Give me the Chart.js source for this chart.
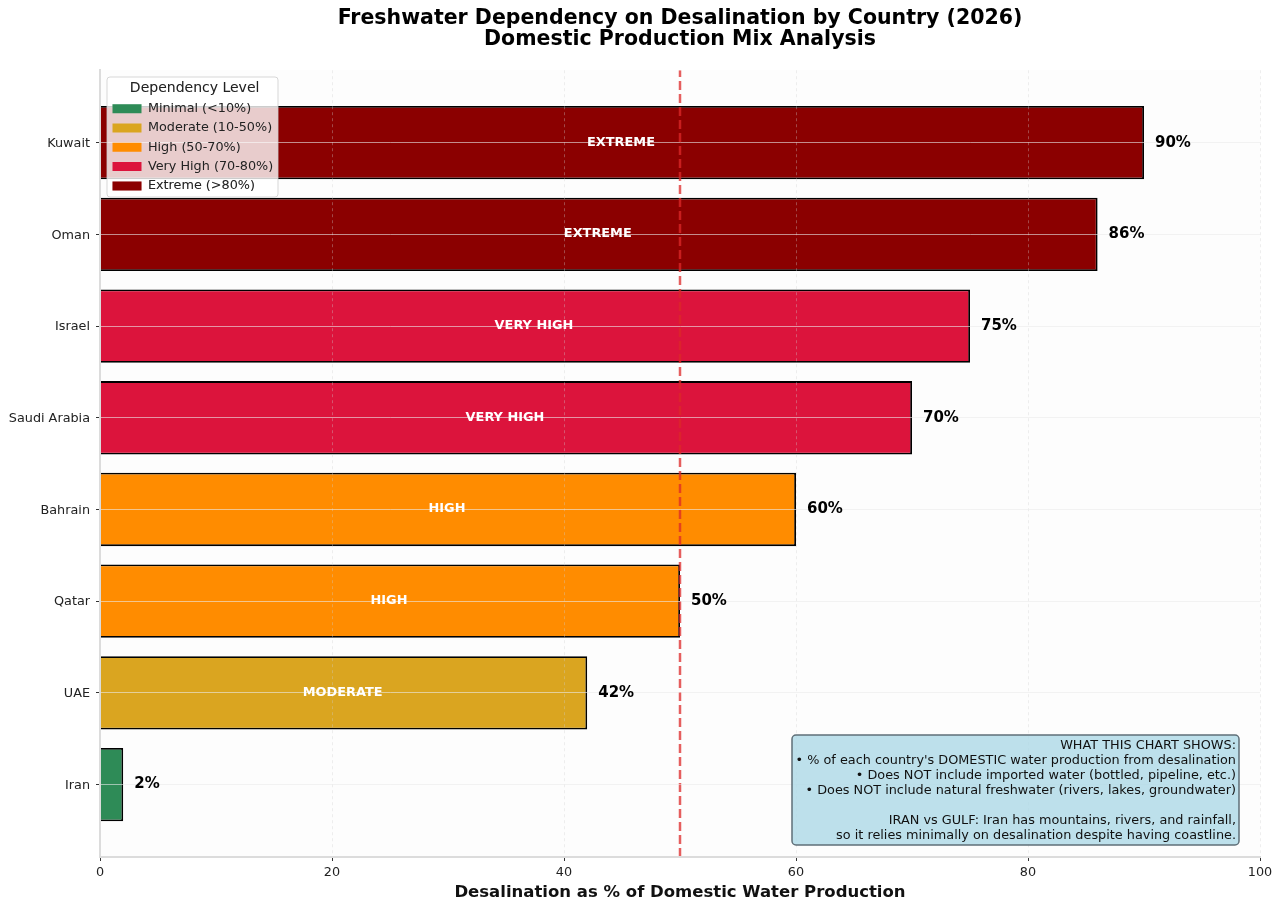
<!DOCTYPE html>
<html>
<head>
<meta charset="utf-8">
<title>Freshwater Dependency on Desalination</title>
<script src="https://cdn.jsdelivr.net/npm/chart.js@4/dist/chart.umd.min.js"></script>
<style>
  html, body { margin: 0; padding: 0; background: #fff; }
  canvas { display: block; }
</style>
</head>
<body>
<canvas id="desalChart" width="1280" height="910"></canvas>
<script>
const countries = ["Iran", "UAE", "Qatar", "Bahrain", "Saudi Arabia", "Israel", "Oman", "Kuwait"];
const desalShare = [2, 42, 50, 60, 70, 75, 86, 90];
const countryLevel = [0, 1, 2, 2, 3, 3, 4, 4];
const levelLabels = ["Minimal (<10%)", "Moderate (10-50%)", "High (50-70%)", "Very High (70-80%)", "Extreme (>80%)"];
const levelTags = ["", "MODERATE", "HIGH", "VERY HIGH", "EXTREME"];
const levelColors = ["#2E8B57", "#DAA520", "#FF8C00", "#DC143C", "#8B0000"];
const xTicks = [0, 20, 40, 60, 80, 100];
const thresholdValue = [50, 50];
const thresholdEnds = [-0.79, 7.79];
const noteLines = [
  "WHAT THIS CHART SHOWS:",
  "\u2022 % of each country's DOMESTIC water production from desalination",
  "\u2022 Does NOT include imported water (bottled, pipeline, etc.)",
  "\u2022 Does NOT include natural freshwater (rivers, lakes, groundwater)",
  "",
  "IRAN vs GULF: Iran has mountains, rivers, and rainfall,",
  "so it relies minimally on desalination despite having coastline."
];
const fontFamily = "'DejaVu Sans', sans-serif";

function roundedBox(ctx, x, y, w, h, r, fill, stroke, lineWidth) {
  ctx.beginPath();
  ctx.roundRect(x, y, w, h, r);
  ctx.fillStyle = fill;
  ctx.fill();
  ctx.lineWidth = lineWidth;
  ctx.strokeStyle = stroke;
  ctx.stroke();
}

// plot background, sits under everything
const plotBackground = {
  id: "plotBackground",
  beforeDraw(chart) {
    const a = chart.chartArea;
    chart.ctx.fillStyle = "#fdfdfd";
    chart.ctx.fillRect(a.left, a.top, a.width, a.height);
  }
};

// percent labels next to the bars and level names inside them
const barLabels = {
  id: "barLabels",
  afterDraw(chart) {
    const ctx = chart.ctx;
    const bars = chart.getDatasetMeta(0).data;
    ctx.save();
    ctx.textBaseline = "middle";
    bars.forEach((bar, i) => {
      ctx.textAlign = "left";
      ctx.fillStyle = "#000";
      ctx.font = "bold 15px " + fontFamily;
      ctx.fillText(desalShare[i] + "%", bar.x + 11, bar.y);
      const tag = levelTags[countryLevel[i]];
      if (tag) {
        ctx.textAlign = "center";
        ctx.fillStyle = "#fff";
        ctx.font = "bold 12.9px " + fontFamily;
        ctx.fillText(tag, chart.scales.x.getPixelForValue(desalShare[i] / 2) - 1, bar.y - 0.5);
      }
    });
    ctx.restore();
  }
};

// the legend floats over the bars, so it is drawn again after them on its own panel
const legendPanel = {
  id: "legendPanel",
  afterLayout(chart) {
    chart.legend.left = 106;
    chart.legend.top = 81;
  },
  afterDraw(chart) {
    const ctx = chart.ctx;
    ctx.save();
    roundedBox(ctx, 107, 77, 171, 120, 3, "rgba(255,255,255,0.8)", "rgba(205,205,205,0.8)", 1);
    ctx.restore();
    chart.legend.draw();
  }
};

const noteBox = {
  id: "noteBox",
  afterDraw(chart) {
    const ctx = chart.ctx;
    ctx.save();
    roundedBox(ctx, 792, 735, 447, 110, 4, "rgba(173,216,230,0.8)", "#5f6f78", 1.5);
    ctx.fillStyle = "#111";
    ctx.font = "12.83px " + fontFamily;
    ctx.textAlign = "right";
    ctx.textBaseline = "middle";
    noteLines.forEach((line, i) => ctx.fillText(line, 1236, 745.5 + i * 15));
    ctx.restore();
  }
};

new Chart(document.getElementById("desalChart"), {
  data: {
    datasets: [
      {
        type: "bar",
        data: countries.map((c, i) => ({ x: desalShare[i], y: i })),
        backgroundColor: countryLevel.map(l => levelColors[l]),
        borderColor: "#000",
        borderWidth: 1.8,
        barPercentage: 0.8,
        categoryPercentage: 1,
        order: 2
      },
      {
        type: "scatter",
        data: thresholdValue.map((v, i) => ({ x: v, y: thresholdEnds[i] })),
        showLine: true,
        borderColor: "rgba(220,40,40,0.75)",
        borderWidth: 2.5,
        borderDash: [9, 4],
        pointRadius: 0,
        order: 1
      }
    ]
  },
  options: {
    indexAxis: "y",
    responsive: false,
    animation: false,
    devicePixelRatio: 1,
    layout: { padding: { right: 20 } },
    scales: {
      x: {
        type: "linear",
        min: 0,
        max: 100,
        offset: false,
        afterBuildTicks(scale) { scale.ticks = xTicks.map(value => ({ value })); },
        afterFit(scale) { scale.height = 53; },
        grid: { color: "rgba(205,205,205,0.35)", z: 1, tickColor: "#333", tickLength: 4, offset: false },
        border: { color: "#dcdcdc", width: 2, dash: [3, 3], z: 1 },
        ticks: { color: "#222", font: { family: fontFamily, size: 12.8 }, padding: 4, maxRotation: 0 },
        title: {
          display: true,
          text: "Desalination as % of Domestic Water Production",
          color: "#111",
          font: { family: fontFamily, size: 16.5, weight: "bold" },
          padding: { top: 2, bottom: 7 }
        }
      },
      y: {
        type: "linear",
        min: thresholdEnds[0],
        max: thresholdEnds[1],
        offset: false,
        afterBuildTicks(scale) { scale.ticks = countries.map((c, i) => ({ value: i })); },
        afterFit(scale) { scale.width = 100; },
        grid: { color: "rgba(235,235,235,0.6)", z: 1, tickColor: "#333", tickLength: 4, offset: false },
        border: { color: "#dcdcdc", width: 2, z: 1 },
        ticks: {
          color: "#222",
          font: { family: fontFamily, size: 12.8 },
          padding: 6,
          labelOffset: 1,
          autoSkip: false,
          callback: value => countries[value]
        }
      }
    },
    plugins: {
      title: {
        display: true,
        text: ["Freshwater Dependency on Desalination by Country (2026)", "Domestic Production Mix Analysis"],
        color: "#000",
        fullSize: false,
        font: { family: fontFamily, size: 20.5, weight: "bold", lineHeight: 1.03 },
        padding: { top: 8, bottom: 20 }
      },
      legend: {
        display: true,
        position: "chartArea",
        align: "start",
        title: {
          display: true,
          text: "Dependency Level",
          color: "#222",
          font: { family: fontFamily, size: 14, lineHeight: 1 },
          padding: { top: 0, bottom: 0.8 }
        },
        labels: {
          boxWidth: 29,
          boxHeight: 9,
          padding: 6.5,
          color: "#222",
          font: { family: fontFamily, size: 12.8 },
          generateLabels: () => levelLabels.map((text, i) => ({
            text,
            fillStyle: levelColors[i],
            strokeStyle: levelColors[i],
            lineWidth: 0,
            fontColor: "#222"
          }))
        }
      },
      tooltip: { enabled: false }
    }
  },
  plugins: [plotBackground, barLabels, legendPanel, noteBox]
});
</script>
</body>
</html>
